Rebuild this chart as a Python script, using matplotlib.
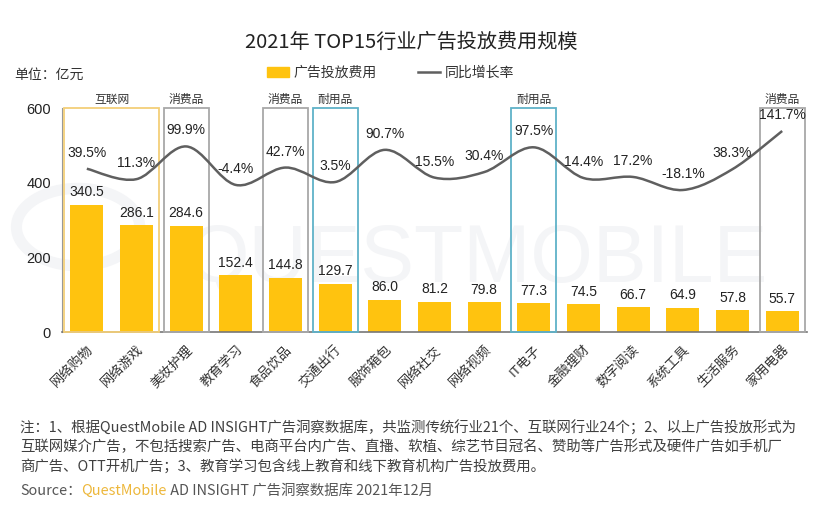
import matplotlib
matplotlib.use("Agg")
import matplotlib.pyplot as plt
import numpy as np
from matplotlib.path import Path
from matplotlib.patches import PathPatch, Rectangle, Patch, Circle
from matplotlib.lines import Line2D

plt.rcParams['font.family'] = ['Noto Sans CJK SC', 'DejaVu Sans']

categories = ['网络购物', '网络游戏', '美妆护理', '教育学习', '食品饮品', '交通出行', '服饰箱包',
              '网络社交', '网络视频', 'IT电子', '金融理财', '数字阅读', '系统工具', '生活服务', '家用电器']
spend = [340.5, 286.1, 284.6, 152.4, 144.8, 129.7, 86.0, 81.2, 79.8, 77.3, 74.5, 66.7, 64.9, 57.8, 55.7]
growth = [39.5, 11.3, 99.9, -4.4, 42.7, 3.5, 90.7, 15.5, 30.4, 97.5, 14.4, 17.2, -18.1, 38.3, 141.7]
yticks = [0, 200, 400, 600]

# group boxes: (first bar, last bar, label, colour)
groups = [(0, 1, '互联网', '#F3CF78'), (2, 2, '消费品', '#A8A8A8'), (4, 4, '消费品', '#A8A8A8'),
          (5, 5, '耐用品', '#5FB2C8'), (9, 9, '耐用品', '#5FB2C8'), (14, 14, '消费品', '#A8A8A8')]

num_font = ['Liberation Sans', 'Noto Sans CJK SC']

fig = plt.figure(figsize=(8.22, 5.16), dpi=100)
ax = fig.add_axes([62 / 822, 1 - 332 / 516, 745 / 822, 224 / 516])
x = np.arange(len(categories))

# faint watermark behind the bars
ax.text(0.58, 0.495, 'QUESTMOBILE', fontsize=58, color='#f4f5f7', ha='center', va='center',
        family=num_font, transform=fig.transFigure, zorder=0.5, clip_on=False)
ax.add_patch(Circle((0.095, 0.56), 0.075, transform=fig.transFigure, fill=False,
                    ec='#f4f5f7', lw=8, zorder=0.5, clip_on=False))

ax.bar(x, spend, width=0.66, color='#FFC30F', zorder=2)
for xi, v in zip(x, spend):
    ax.annotate(f'{v:.1f}', (xi, v), xytext=(0, 9), textcoords='offset points',
                ha='center', va='center', fontsize=10, color='#222222', family=num_font)

ax.set_xlim(-0.5, len(categories) - 0.5)
ax.set_ylim(0, 600)
ax.set_yticks(yticks)
ax.set_yticklabels([str(t) for t in yticks], family=num_font, fontsize=10.5, color='#222222')
ax.set_xticks(x)
ax.set_xticklabels(categories, rotation=45, ha='right', rotation_mode='anchor', fontsize=9.5,
                   color='#333333')
ax.tick_params(length=0, pad=8)
ax.tick_params(axis='x', pad=8)
for s in ['top', 'right']:
    ax.spines[s].set_visible(False)
ax.spines['left'].set_color('#999999')
ax.spines['bottom'].set_color('#777777')
ax.spines['bottom'].set_linewidth(1.2)

for a, b, lab, col in groups:
    ax.add_patch(Rectangle((a - 0.45, 0), b - a + 0.9, 600, fill=False, ec=col, lw=1.3, zorder=3,
                           clip_on=False))
    ax.text((a + b) / 2, 606, lab, ha='center', va='bottom', fontsize=8.5, color='#333333')

# growth line on hidden secondary axis
ax2 = ax.twinx()
ax2.set_ylim(-402.7, 204.0)
ax2.axis('off')
pts = np.column_stack([x, growth]).astype(float)
ext = np.vstack([pts[0], pts, pts[-1]])
verts = [pts[0]]
codes = [Path.MOVETO]
for i in range(len(pts) - 1):
    p0, p1, p2, p3 = ext[i], ext[i + 1], ext[i + 2], ext[i + 3]
    verts += [p1 + (p2 - p0) / 6, p2 - (p3 - p1) / 6, p2]
    codes += [Path.CURVE4] * 3
ax2.add_patch(PathPatch(Path(verts, codes), fill=False, ec='#5f5f5f', lw=1.8, zorder=4))
for xi, g in zip(x, growth):
    ax2.annotate(f'{g:.1f}%', (xi, g), xytext=(0, 11.5), textcoords='offset points',
                 ha='center', va='center', fontsize=10, color='#222222', family=num_font, zorder=5)

fig.text(0.5, 1 - 42 / 516, '2021年 TOP15行业广告投放费用规模', ha='center', va='center',
         fontsize=14.5, color='#222222')
fig.text(14 / 822, 1 - 75 / 516, '单位：亿元', ha='left', va='center', fontsize=10, color='#333333')

handles = [Patch(color='#FFC30F'), Line2D([], [], color='#5f5f5f', lw=1.8)]
fig.legend(handles, ['广告投放费用', '同比增长率'], loc='center', bbox_to_anchor=(0.475, 1 - 73 / 516),
           ncol=2, frameon=False, fontsize=10, handlelength=1.6, handletextpad=0.3, columnspacing=3.0,
           labelcolor='#333333')

notes = ['注：1、根据QuestMobile AD INSIGHT广告洞察数据库，共监测传统行业21个、互联网行业24个；2、以上广告投放形式为',
         '互联网媒介广告，不包括搜索广告、电商平台内广告、直播、软植、综艺节目冠名、赞助等广告形式及硬件广告如手机厂',
         '商广告、OTT开机广告；3、教育学习包含线上教育和线下教育机构广告投放费用。']
for i, line in enumerate(notes):
    fig.text(20 / 822, 1 - (428 + 19 * i) / 516, line, ha='left', va='center', fontsize=10.4,
             color='#404040')

t1 = fig.text(20 / 822, 1 - 491 / 516, 'Source：', ha='left', va='center', fontsize=10.4, color='#555555')
t2 = fig.text(0, 0, 'QuestMobile', fontsize=10.4, color='#EDB73A', ha='left', va='bottom')
t3 = fig.text(0, 0, ' AD INSIGHT 广告洞察数据库 2021年12月', fontsize=10.4, color='#555555', ha='left',
              va='bottom')
fig.canvas.draw()
r = fig.canvas.get_renderer()
bb = t1.get_window_extent(r)
t2.set_position((bb.x1 / fig.bbox.width, bb.y0 / fig.bbox.height))
bb2 = t2.get_window_extent(r)
t3.set_position((bb2.x1 / fig.bbox.width, bb.y0 / fig.bbox.height))

fig.savefig('out.png', dpi=100)
